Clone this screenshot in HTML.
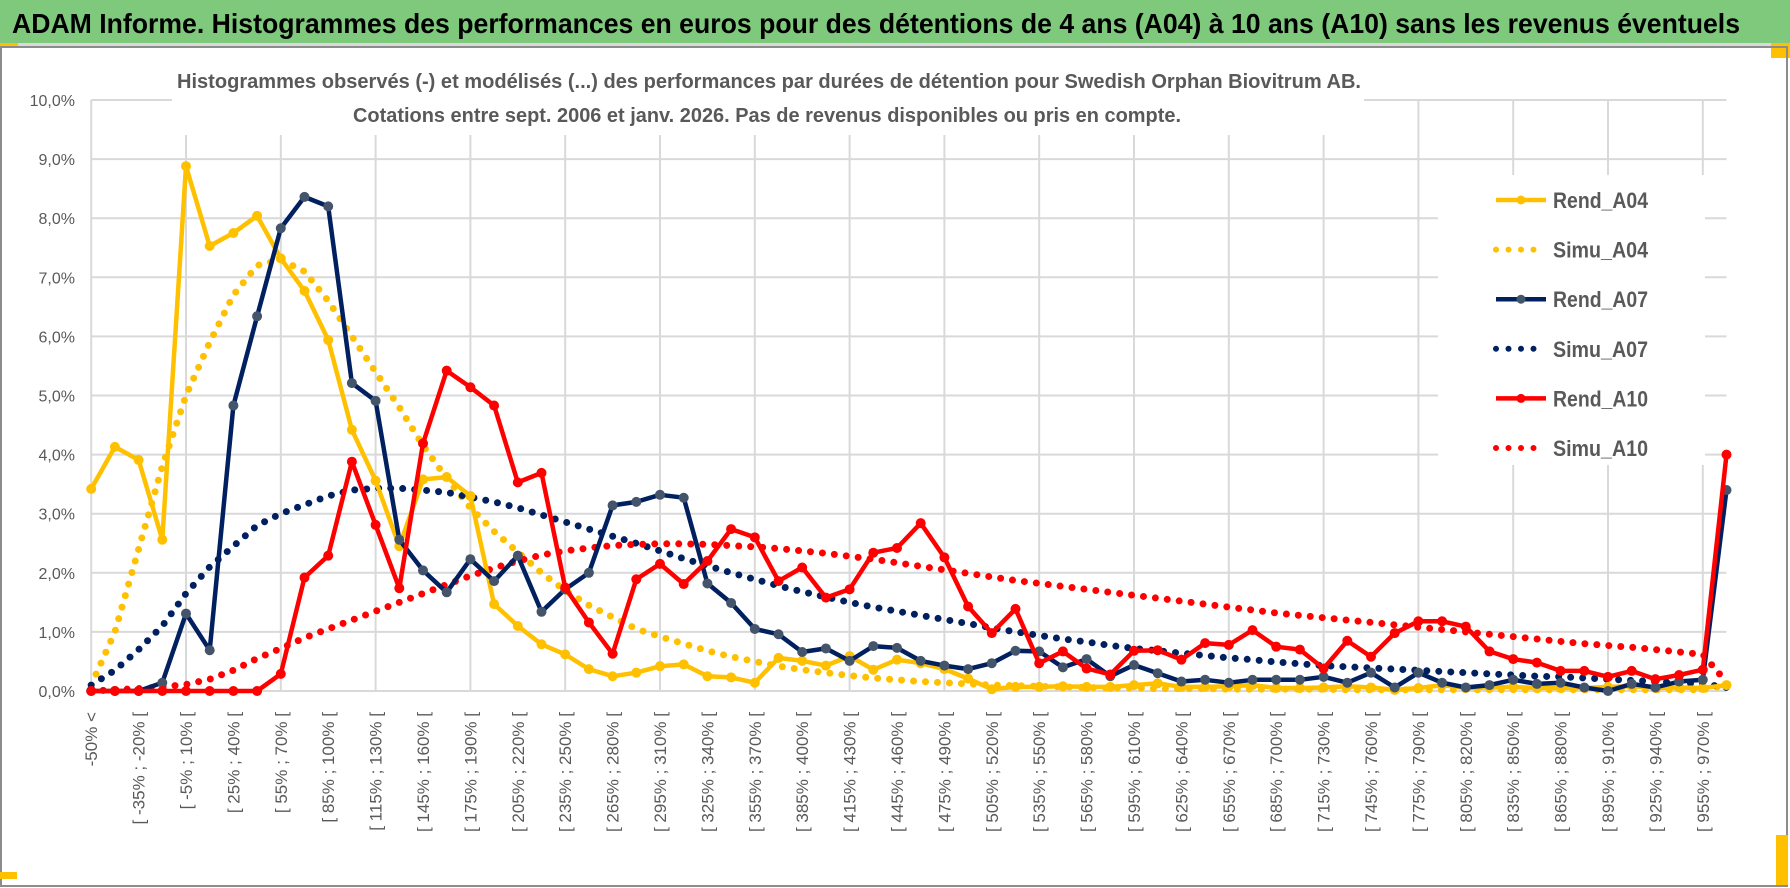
<!DOCTYPE html>
<html><head><meta charset="utf-8">
<style>
html,body{margin:0;padding:0;background:#fff;}
svg{display:block;font-family:"Liberation Sans",sans-serif;}
</style></head>
<body>
<svg id="chart" width="1790" height="888" viewBox="0 0 1790 888" xmlns="http://www.w3.org/2000/svg">
<rect x="0" y="0" width="1790" height="888" fill="#fff"/>
<rect x="0" y="0" width="1790" height="43" fill="#7fc97d"/>
<rect x="0" y="43" width="1790" height="4" fill="#d9d9d9"/>
<rect x="0" y="43" width="18" height="4" fill="#ffc000"/>
<rect x="1771" y="43" width="19" height="15" fill="#ffc000"/>
<rect x="1" y="47" width="1786" height="839" fill="none" stroke="#8c8c8c" stroke-width="2"/>
<rect x="0" y="872" width="17" height="7" fill="#ffc000"/>
<rect x="1776" y="835" width="12" height="50" fill="#ffc000"/>
<text x="12" y="33" font-size="28" font-weight="bold" fill="#000" textLength="1728" lengthAdjust="spacingAndGlyphs">ADAM Informe. Histogrammes des performances en euros pour des détentions de 4 ans (A04) à 10 ans (A10) sans les revenus éventuels</text>
<g id="grid"></g>
<rect x="172" y="58" width="1192" height="77" fill="#fff"/>
<text x="177" y="88" font-size="20" font-weight="bold" fill="#595959" textLength="1184" lengthAdjust="spacingAndGlyphs">Histogrammes observés (-) et modélisés (...) des performances par durées de détention pour Swedish Orphan Biovitrum AB.</text>
<text x="353" y="122" font-size="20" font-weight="bold" fill="#595959" textLength="828" lengthAdjust="spacingAndGlyphs">Cotations entre sept. 2006 et janv. 2026. Pas de revenus disponibles ou pris en compte.</text>
<g id="yticks"></g>
<g id="xticks"></g>
<g id="series"></g>
<rect x="1438" y="175" width="267" height="290" fill="#fff"/>
<g id="legend"></g>
</svg>
<script>
const yTicks = [0,1,2,3,4,5,6,7,8,9,10];
const rendA04 = [3.42,4.13,3.91,2.56,8.88,7.53,7.75,8.04,7.32,6.77,5.94,4.42,3.56,2.45,3.58,3.62,3.3,1.47,1.1,0.79,0.62,0.37,0.25,0.31,0.42,0.45,0.25,0.23,0.14,0.56,0.51,0.43,0.59,0.36,0.53,0.47,0.37,0.21,0.03,0.07,0.07,0.08,0.07,0.07,0.1,0.13,0.07,0.07,0.08,0.1,0.05,0.05,0.06,0.08,0.06,0.02,0.05,0.1,0.05,0.06,0.07,0.05,0.05,0.05,0.07,0.08,0.05,0.06,0.05,0.1];
const simuA04 = [0.1,1.0,2.4,3.8,5.0,5.9,6.7,7.2,7.3,7.1,6.6,6.0,5.4,4.8,4.15,3.6,3.1,2.7,2.35,2.0,1.7,1.45,1.25,1.05,0.92,0.8,0.68,0.58,0.5,0.42,0.36,0.31,0.26,0.22,0.19,0.16,0.14,0.12,0.1,0.09,0.08,0.07,0.06,0.05,0.05,0.04,0.04,0.04,0.03,0.03,0.03,0.03,0.03,0.02,0.02,0.02,0.02,0.02,0.02,0.02,0.02,0.02,0.02,0.02,0.02,0.02,0.02,0.02,0.02,0.1];
const rendA07 = [0,0,0,0.14,1.31,0.69,4.83,6.34,7.83,8.36,8.2,5.21,4.91,2.56,2.04,1.67,2.23,1.86,2.29,1.34,1.72,2.0,3.14,3.2,3.32,3.27,1.82,1.49,1.05,0.96,0.66,0.72,0.51,0.76,0.73,0.51,0.43,0.37,0.47,0.68,0.67,0.4,0.54,0.25,0.44,0.3,0.16,0.19,0.14,0.19,0.19,0.19,0.24,0.14,0.31,0.06,0.31,0.14,0.06,0.1,0.19,0.12,0.14,0.06,0.0,0.12,0.06,0.16,0.19,3.4];
const simuA07 = [0.1,0.35,0.7,1.1,1.65,2.1,2.45,2.8,3.0,3.15,3.3,3.4,3.43,3.43,3.4,3.36,3.28,3.2,3.1,2.98,2.86,2.74,2.62,2.5,2.37,2.24,2.12,2.0,1.89,1.78,1.68,1.59,1.5,1.42,1.35,1.28,1.21,1.14,1.07,1.0,0.94,0.88,0.83,0.77,0.72,0.68,0.64,0.6,0.56,0.53,0.49,0.46,0.43,0.41,0.39,0.37,0.35,0.33,0.31,0.29,0.27,0.25,0.24,0.22,0.2,0.18,0.16,0.14,0.12,0.06];
const rendA10 = [0,0,0,0,0,0,0,0,0.29,1.92,2.29,3.88,2.81,1.74,4.19,5.42,5.14,4.83,3.53,3.69,1.75,1.16,0.63,1.89,2.15,1.81,2.2,2.74,2.6,1.86,2.09,1.58,1.72,2.34,2.42,2.84,2.26,1.43,0.98,1.39,0.47,0.67,0.38,0.28,0.68,0.69,0.53,0.81,0.78,1.03,0.75,0.7,0.38,0.85,0.58,0.98,1.18,1.18,1.09,0.67,0.54,0.48,0.34,0.34,0.24,0.34,0.2,0.27,0.36,4.0];
const simuA10 = [0.0,0.02,0.04,0.07,0.11,0.2,0.35,0.55,0.72,0.9,1.05,1.2,1.35,1.5,1.65,1.8,1.95,2.08,2.2,2.3,2.37,2.42,2.46,2.48,2.49,2.49,2.48,2.46,2.44,2.41,2.37,2.33,2.28,2.23,2.17,2.11,2.05,1.99,1.93,1.87,1.82,1.77,1.72,1.67,1.62,1.57,1.52,1.47,1.42,1.37,1.32,1.28,1.24,1.2,1.16,1.12,1.08,1.04,1.0,0.96,0.92,0.88,0.84,0.8,0.77,0.74,0.7,0.66,0.62,0.15];

const NS="http://www.w3.org/2000/svg";
const N = rendA04.length;
const X0=91.2, STEP=23.7, Y0=691, YU=59.1;
function xs(i){return X0+STEP*i;}
function ys(v){return Y0-YU*v;}
function mk(tag, parent){const e=document.createElementNS(NS,tag);parent.appendChild(e);return e;}
function catLabel(i){
  if(i===0) return "-50% <";
  const a=-50+15*(i-1), b=a+15;
  return "[ "+a+"% ; "+b+"% [";
}
const grid=document.getElementById('grid');
yTicks.forEach(t=>{
  const l=mk('line',grid);
  
  
  l.setAttribute('x1',X0);l.setAttribute('x2',xs(N-1));
  l.setAttribute('y1',ys(t));l.setAttribute('y2',ys(t));
  l.setAttribute('stroke','#d9d9d9');l.setAttribute('stroke-width','2');
});
for(let i=0;i<N;i+=4){
  const l=mk('line',grid);
  
  
  l.setAttribute('x1',xs(i));l.setAttribute('x2',xs(i));
  l.setAttribute('y1',ys(10));l.setAttribute('y2',Y0);
  l.setAttribute('stroke','#d9d9d9');l.setAttribute('stroke-width','2');
}
const yt=document.getElementById('yticks');
yTicks.forEach(t=>{
  const e=mk('text',yt);
  
  
  e.setAttribute('x',75);e.setAttribute('y',ys(t)+6);
  e.setAttribute('text-anchor','end');e.setAttribute('font-size','16');e.setAttribute('fill','#595959');
  e.textContent=t.toFixed(1).replace('.',',')+'%';
});
const xt=document.getElementById('xticks');
for(let i=0;i<N;i+=2){
  const e=mk('text',xt);
  
  
  const x=xs(i)+6, y=712;
  e.setAttribute('x',x);e.setAttribute('y',y);
  e.setAttribute('transform','rotate(-90 '+x+' '+y+')');
  e.setAttribute('text-anchor','end');e.setAttribute('font-size','17');e.setAttribute('fill','#595959');
  e.textContent=catLabel(i);
}
const ser=document.getElementById('series');
function pts(arr){return arr.map((v,i)=>xs(i).toFixed(1)+','+ys(v).toFixed(1)).join(' ');}
function dotted(arr,color,name){
  const p=mk('polyline',ser);
  
  
  p.setAttribute('points',pts(arr));p.setAttribute('fill','none');
  p.setAttribute('stroke',color);p.setAttribute('stroke-width','7');
  p.setAttribute('stroke-linecap','round');p.setAttribute('stroke-dasharray','0 12');
}
function solid(arr,color,mcol,name){
  const p=mk('polyline',ser);
  
  
  p.setAttribute('points',pts(arr));p.setAttribute('fill','none');
  p.setAttribute('stroke',color);p.setAttribute('stroke-width','4.5');
  p.setAttribute('stroke-linejoin','round');
  arr.forEach((v,i)=>{
    const c=mk('circle',ser);
    
    
    c.setAttribute('cx',xs(i));c.setAttribute('cy',ys(v));c.setAttribute('r','5');
    c.setAttribute('fill',mcol);
  });
}
dotted(simuA04,'#ffc000','simu-a04-line');
dotted(simuA07,'#002060','simu-a07-line');
dotted(simuA10,'#ff0000','simu-a10-line');
solid(rendA04,'#ffc000','#ffc000','rend-a04-line');
solid(rendA07,'#002060','#44546a','rend-a07-line');
solid(rendA10,'#ff0000','#ff0000','rend-a10-line');

const lg=document.getElementById('legend');
const legNames=['Rend_A04','Simu_A04','Rend_A07','Simu_A07','Rend_A10','Simu_A10'];
const legCols=['#ffc000','#ffc000','#002060','#002060','#ff0000','#ff0000'];
const legMk=['#ffc000',null,'#44546a',null,'#ff0000',null];
legNames.forEach((n,k)=>{
  const y=200+49.6*k;
  const g=mk('g',lg);
  
  
  const l=mk('line',g);
  l.setAttribute('x1',1496);l.setAttribute('x2',1546);l.setAttribute('y1',y);l.setAttribute('y2',y);
  l.setAttribute('stroke',legCols[k]);
  if(legMk[k]){
    l.setAttribute('stroke-width','4.5');
    const c=mk('circle',g);
    c.setAttribute('cx',1521);c.setAttribute('cy',y);c.setAttribute('r','4.5');c.setAttribute('fill',legMk[k]);
  } else {
    l.setAttribute('stroke-width','6');l.setAttribute('stroke-linecap','round');l.setAttribute('stroke-dasharray','0 12.5');
  }
  const t=mk('text',g);
  t.setAttribute('x',1553);t.setAttribute('y',y+8);
  t.setAttribute('font-size','22');t.setAttribute('font-weight','bold');t.setAttribute('fill','#595959');
  t.setAttribute('textLength','95');t.setAttribute('lengthAdjust','spacingAndGlyphs');
  t.textContent=n;
});
</script>
</body></html>
